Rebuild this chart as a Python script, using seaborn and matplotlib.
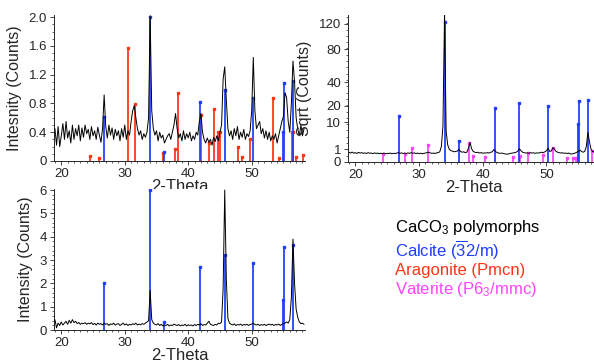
import numpy as np
import pandas as pd
import seaborn as sns
import matplotlib
matplotlib.use("Agg")
import matplotlib.pyplot as plt
from matplotlib.ticker import FixedLocator, MultipleLocator

# ---------------------------------------------------------------------------
# data
# ---------------------------------------------------------------------------
two_theta = np.arange(19.0, 58.26, 0.25)   # common 2-theta grid of the scans

# top-left scan (linear counts)
scan_a = [
    0.45, 0.22, 0.48, 0.20, 0.35, 0.52, 0.30, 0.55, 0.32, 0.42,
    0.25, 0.50, 0.30, 0.45, 0.35, 0.50, 0.28, 0.46, 0.33, 0.50,
    0.38, 0.44, 0.30, 0.48, 0.35, 0.42, 0.30, 0.47, 0.36, 0.26,
    0.45, 0.92, 0.48, 0.32, 0.50, 0.36, 0.46, 0.30, 0.44, 0.35,
    0.42, 0.28, 0.45, 0.33, 0.50, 0.30, 0.42, 0.36, 0.55, 0.70,
    0.77, 0.60, 0.45, 0.36, 0.42, 0.30, 0.38, 0.33, 0.40, 0.60,
    2.02, 0.70, 0.45, 0.36, 0.42, 0.28, 0.40, 0.32, 0.36, 0.25,
    0.30, 0.35, 0.38, 0.30, 0.40, 0.50, 0.66, 0.45, 0.32, 0.38,
    0.28, 0.42, 0.30, 0.38, 0.32, 0.40, 0.28, 0.35, 0.30, 0.40,
    0.36, 0.55, 0.66, 0.40, 0.30, 0.25, 0.32, 0.26, 0.30, 0.22,
    0.33, 0.27, 0.35, 0.28, 0.40, 0.50, 1.14, 1.31, 0.85, 0.45,
    0.35, 0.42, 0.30, 0.45, 0.35, 0.48, 0.30, 0.40, 0.33, 0.44,
    0.30, 0.38, 0.34, 0.42, 0.70, 1.44, 0.70, 0.45, 0.50, 0.55,
    0.38, 0.45, 0.32, 0.42, 0.30, 0.40, 0.28, 0.35, 0.30, 0.38,
    0.25, 0.35, 0.45, 0.55, 0.62, 0.95, 0.88, 0.55, 0.40, 0.80,
    1.39, 1.10, 0.60, 0.45, 0.35, 0.50, 0.35, 0.45,
]

# top-right scan (counts, shown on a sqrt axis)
scan_b = [
    0.60, 0.50, 0.62, 0.48, 0.55, 0.45, 0.58, 0.50, 0.55, 0.47,
    0.52, 0.45, 0.55, 0.48, 0.50, 0.44, 0.52, 0.46, 0.50, 0.43,
    0.48, 0.44, 0.50, 0.42, 0.47, 0.45, 0.50, 0.43, 0.48, 0.45,
    0.50, 0.55, 0.47, 0.52, 0.45, 0.50, 0.44, 0.52, 0.47, 0.55,
    0.48, 0.52, 0.45, 0.50, 0.44, 0.48, 0.42, 0.47, 0.50, 0.55,
    0.60, 0.52, 0.47, 0.50, 0.45, 0.52, 0.55, 0.65, 1.50, 8.00,
    140.0, 6.00, 1.80, 1.00, 0.80, 0.75, 0.65, 0.70, 0.75, 1.00,
    0.70, 0.60, 0.65, 0.55, 0.60, 1.20, 2.40, 1.10, 0.70, 0.60,
    0.55, 0.60, 0.50, 0.55, 0.48, 0.52, 0.50, 0.55, 0.50, 0.60,
    0.65, 1.00, 0.70, 0.55, 0.50, 0.47, 0.50, 0.45, 0.42, 0.38,
    0.40, 0.45, 0.48, 0.50, 0.55, 0.60, 0.75, 1.10, 0.80, 0.60,
    0.55, 0.50, 0.52, 0.48, 0.55, 0.50, 0.53, 0.47, 0.52, 0.50,
    0.55, 0.60, 0.55, 0.65, 0.80, 1.20, 0.70, 0.75, 1.30, 1.00,
    0.70, 0.60, 0.55, 0.50, 0.53, 0.48, 0.50, 0.45, 0.50, 0.42,
    0.40, 0.45, 0.50, 0.60, 0.70, 0.90, 0.70, 0.60, 0.70, 1.50,
    5.50, 2.50, 1.00, 0.70, 0.60, 0.55, 0.60, 0.50,
]

# bottom-left scan (linear counts)
scan_c = [
    0.45, 0.10, 0.30, 0.20, 0.35, 0.22, 0.30, 0.38, 0.25, 0.42,
    0.30, 0.45, 0.32, 0.38, 0.28, 0.33, 0.25, 0.30, 0.28, 0.32,
    0.25, 0.30, 0.27, 0.32, 0.24, 0.29, 0.22, 0.30, 0.25, 0.28,
    0.22, 0.30, 0.25, 0.28, 0.20, 0.27, 0.24, 0.30, 0.22, 0.26,
    0.28, 0.20, 0.25, 0.30, 0.22, 0.27, 0.20, 0.25, 0.22, 0.28,
    0.24, 0.30, 0.22, 0.26, 0.23, 0.28, 0.25, 0.30, 0.35, 0.40,
    1.70, 0.45, 0.30, 0.25, 0.22, 0.28, 0.20, 0.25, 0.18, 0.22,
    0.20, 0.25, 0.18, 0.22, 0.20, 0.26, 0.22, 0.20, 0.24, 0.18,
    0.22, 0.20, 0.25, 0.18, 0.23, 0.20, 0.22, 0.18, 0.24, 0.20,
    0.25, 0.22, 0.28, 0.20, 0.24, 0.22, 0.30, 0.38, 0.25, 0.22,
    0.20, 0.25, 0.22, 0.30, 0.28, 0.35, 1.80, 6.00, 2.20, 0.50,
    0.30, 0.25, 0.22, 0.27, 0.20, 0.24, 0.22, 0.26, 0.20, 0.24,
    0.22, 0.25, 0.20, 0.24, 0.26, 0.30, 0.24, 0.22, 0.25, 0.20,
    0.24, 0.21, 0.25, 0.20, 0.23, 0.26, 0.22, 0.25, 0.20, 0.24,
    0.22, 0.26, 0.20, 0.25, 0.28, 0.30, 0.35, 0.30, 0.45, 1.40,
    3.90, 2.00, 0.90, 0.55, 0.35, 0.28, 0.30, 0.25,
]

# reference stick patterns (2-theta positions)
calcite_pos = [26.8, 34.05, 36.2, 41.85, 45.75, 50.2, 54.9, 55.15, 56.45]
calcite_a = [0.61, 2.0, 0.12, 0.82, 0.99, 0.88, 0.40, 1.08, 1.11]
calcite_b = [13.5, 123, 2.86, 18.2, 21.7, 19.5, 9.1, 23.7, 24.2]
calcite_c = [2.0, 6.0, 0.36, 2.71, 3.23, 2.89, 1.29, 3.56, 3.65]

aragonite_pos = [24.6, 26.0, 30.5, 31.6, 36.1, 37.95, 38.45, 42.0, 43.25,
                 44.0, 44.75, 45.0, 47.9, 48.4, 49.8, 53.35, 54.25, 56.3,
                 56.5, 57.0, 58.05]
aragonite_a = [0.07, 0.04, 1.57, 0.79, 0.11, 0.16, 0.95, 0.64, 0.25,
               0.72, 0.40, 0.40, 0.20, 0.05, 0.30, 0.87, 0.04, 0.40,
               0.40, 0.05, 0.08]

vaterite_pos = [24.3, 27.8, 28.85, 31.4, 37.9, 38.4, 40.4, 44.75, 45.85,
                47.15, 49.5, 51.05, 53.15, 54.1, 54.6, 57.1]
vaterite_b = [0.45, 0.38, 1.18, 1.8, 2.35, 0.23, 0.14, 0.16, 0.2,
              0.5, 0.3, 1.3, 0.12, 0.12, 0.12, 0.8]

BLUE = "#1f3dff"
RED = "#ff3414"
MAGENTA = "#ff44ff"

# ---------------------------------------------------------------------------
# style
# ---------------------------------------------------------------------------
sns.set_style("ticks")
plt.rcParams["font.family"] = ["Liberation Sans", "DejaVu Sans"]
plt.rcParams["mathtext.fontset"] = "custom"
plt.rcParams["mathtext.rm"] = "Liberation Sans"
plt.rcParams["mathtext.it"] = "Liberation Sans"
plt.rcParams["xtick.labelsize"] = 9.5
plt.rcParams["ytick.labelsize"] = 9.5

fig = plt.figure(figsize=(5.94, 3.64), dpi=100)
ax_a = fig.add_axes([0.0909, 0.5577, 0.4226, 0.401])
ax_b = fig.add_axes([0.5859, 0.555, 0.4242, 0.404])
ax_c = fig.add_axes([0.0909, 0.093, 0.4226, 0.388])


def sticks(ax, pos, hts, color):
    ax.vlines(pos, 0, hts, color=color, lw=1.4, alpha=0.9, zorder=2)
    ax.plot(pos, hts, "s", ms=1.6, color=color, zorder=2)


def trace(ax, y):
    df = pd.DataFrame({"two_theta": two_theta, "counts": y})
    sns.lineplot(data=df, x="two_theta", y="counts", ax=ax, color="black",
                 lw=0.7, sort=False, estimator=None, zorder=3)


def style_axis(ax, ylabel, xpad=-0.5):
    ax.set_xlim(18.85, 58.4)
    ax.set_xticks([20, 30, 40, 50])
    ax.xaxis.set_minor_locator(MultipleLocator(1))
    ax.tick_params(which="major", direction="out", length=3, width=0.6, pad=2)
    ax.tick_params(which="minor", direction="out", length=1.5, width=0.5)
    for s in ("left", "bottom"):
        ax.spines[s].set_linewidth(0.7)
    sns.despine(ax=ax)
    ax.set_xlabel("2-Theta", fontsize=12, labelpad=xpad)
    ax.set_ylabel(ylabel, fontsize=11.5, labelpad=5)


# top-left: aragonite + calcite
sticks(ax_a, aragonite_pos, aragonite_a, RED)
sticks(ax_a, calcite_pos, calcite_a, BLUE)
trace(ax_a, scan_a)
style_axis(ax_a, "Intesnity (Counts)")
ax_a.set_ylim(0, 2.03)
ax_a.set_yticks([0, 0.4, 0.8, 1.2, 1.6, 2.0])
ax_a.set_yticklabels(["0", "0.4", "0.8", "1.2", "1.6", "2.0"])
ax_a.yaxis.set_minor_locator(MultipleLocator(0.1))

# top-right: sqrt intensity, vaterite + calcite
ax_b.set_yscale("function", functions=(lambda v: np.sqrt(np.clip(v, 0, None)),
                                        lambda v: np.square(v)))
sticks(ax_b, vaterite_pos, vaterite_b, MAGENTA)
sticks(ax_b, calcite_pos, calcite_b, BLUE)
trace(ax_b, scan_b)
style_axis(ax_b, "Sqrt (Counts)")
ax_b.set_ylim(0, 136)
ax_b.set_yticks([0, 1, 10, 20, 40, 80, 120])
ax_b.set_yticklabels(["0", "1", "10", "20", "40", "80", "120"])
ax_b.yaxis.set_minor_locator(FixedLocator([(0.5 * k) ** 2 for k in range(1, 24)]))

# bottom-left: calcite only
sticks(ax_c, calcite_pos, calcite_c, BLUE)
trace(ax_c, scan_c)
style_axis(ax_c, "Intensity (Counts)", xpad=-1)
ax_c.set_ylim(0, 6.05)
ax_c.set_yticks(range(7))
ax_c.yaxis.set_minor_locator(MultipleLocator(0.2))

# legend text block
fig.text(0.665, 0.376, "CaCO$_3$ polymorphs", color="black", fontsize=12, va="center")
fig.text(0.665, 0.313, r"Calcite ($\overline{3}$2/m)", color=BLUE, fontsize=12, va="center")
fig.text(0.665, 0.258, "Aragonite (Pmcn)", color=RED, fontsize=12, va="center")
fig.text(0.665, 0.206, "Vaterite (P6$_3$/mmc)", color=MAGENTA, fontsize=12, va="center")

fig.savefig("out.png", dpi=100)
